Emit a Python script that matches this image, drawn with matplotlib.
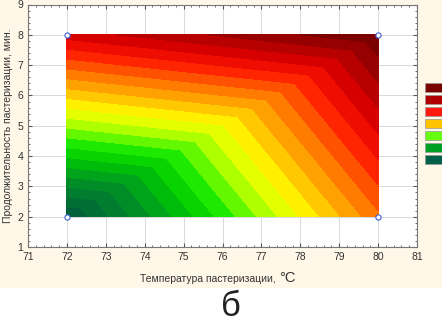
import numpy as np
import matplotlib
matplotlib.use("Agg")
import matplotlib.pyplot as plt
from matplotlib.colors import LinearSegmentedColormap
from matplotlib.patches import Rectangle
from matplotlib.ticker import MultipleLocator
from matplotlib.tri import Triangulation

# Corner design points (temperature, duration) and response values (relative units)
temps = [72, 80, 72, 80]
times = [2, 2, 8, 8]
resp = [0.0, 4.8, 6.0, 7.1]

xticks = [71, 72, 73, 74, 75, 76, 77, 78, 79, 80, 81]
yticks = [1, 2, 3, 4, 5, 6, 7, 8, 9]
legend_colors = ["#7a0000", "#b00000", "#ff1a10", "#ffc400", "#66ff10", "#00a024", "#006048"]

plt.rcParams['font.family'] = ['Liberation Sans', 'DejaVu Sans']

fig = plt.figure(figsize=(4.42, 3.24), dpi=100)
fig.patch.set_facecolor("white")
fig.patches.append(Rectangle((0, 36/324), 1, 1 - 36/324, transform=fig.transFigure,
                             facecolor="#fff7e8", edgecolor="none", zorder=-10))

ax = fig.add_axes([28/442, 77/324, 389/442, 242.5/324])
ax.set_facecolor("white")

stops = [(0.0, "#005a3c"), (1.1, "#008a2a"), (2.0, "#00cc00"), (2.5, "#22f000"),
         (3.0, "#a0ff00"), (3.6, "#ffff00"), (4.1, "#ffc400"), (4.6, "#ff8a00"),
         (5.1, "#ff4a00"), (5.5, "#ff1400"), (6.0, "#d80000"), (7.1, "#700000")]
vmax = 7.1
cmap = LinearSegmentedColormap.from_list("c", [(v / vmax, c) for v, c in stops])

tri = Triangulation(temps, times, triangles=[[0, 2, 3], [0, 1, 3]])
levels = np.linspace(0, 7.15, 23)
ax.tricontourf(tri, resp, levels=levels, cmap=cmap, vmin=0, vmax=vmax, zorder=2, antialiased=False)
ax.scatter(temps, times, s=14, facecolors="white", edgecolors="#4060d0", linewidths=0.8, zorder=4)

ax.set_xlim(71, 81)
ax.set_ylim(1, 9)
ax.set_xticks(xticks)
ax.set_yticks(yticks)
ax.xaxis.set_minor_locator(MultipleLocator(0.2))
ax.yaxis.set_minor_locator(MultipleLocator(0.2))
ax.grid(True, color="#d9d9d9", linewidth=0.7, zorder=0)
ax.set_axisbelow(True)
ax.tick_params(which="both", direction="in", top=True, right=True, colors="#555555",
               labelcolor="#333333", labelsize=7.5)
ax.tick_params(which="major", length=3)
ax.tick_params(which="minor", length=1.5)
for s in ax.spines.values():
    s.set_color("#777777")
    s.set_linewidth(0.8)

ax.set_ylabel("Продолжительность пастеризации, мин.", fontsize=7.5, color="#333333", labelpad=3)

fig.text(279/442, 1 - 282/324, "Температура пастеризации, ", fontsize=7.5, color="#333333",
         ha="right", va="baseline")
fig.text(279/442, 1 - 282/324, "°C", fontsize=10.5, color="#333333", ha="left", va="baseline")

fig.text(231/442, 1 - 307/324, "б", fontsize=25, color="#222222", ha="center", va="center")

for i, c in enumerate(legend_colors):
    y0 = 83 + i * 12
    fig.patches.append(Rectangle((425/442, 1 - (y0 + 9)/324), 20/442, 9/324, transform=fig.transFigure,
                                 facecolor=c, edgecolor="#999999", linewidth=0.5, zorder=5))

fig.savefig("out.png", dpi=100, facecolor=fig.get_facecolor())
